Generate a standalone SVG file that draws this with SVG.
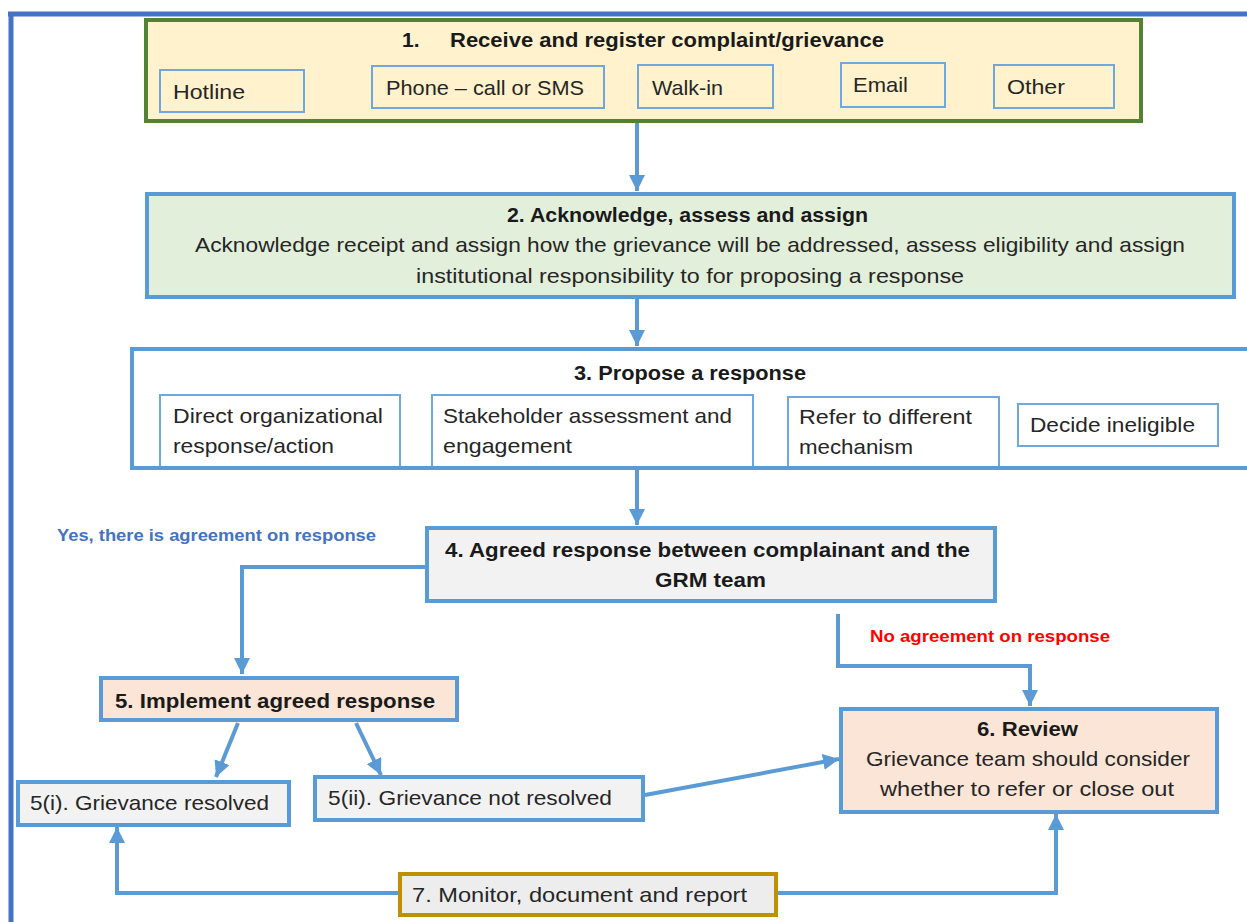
<svg xmlns="http://www.w3.org/2000/svg" width="1247" height="922" viewBox="0 0 1247 922">
<style>
.t{font-family:"Liberation Sans",Arial,sans-serif;font-size:21px;fill:#262626}
.b{font-family:"Liberation Sans",Arial,sans-serif;font-size:21px;font-weight:bold;fill:#1a1a1a}
.lbl{font-family:"Liberation Sans",Arial,sans-serif;font-size:16px;font-weight:bold}
.main{stroke:#5B9BD5;stroke-width:4}
.sub{fill:none;stroke:#6FA8DC;stroke-width:2}
.con{fill:none;stroke:#5B9BD5;stroke-width:4}
</style>
<defs>
<marker id="ah" markerUnits="userSpaceOnUse" markerWidth="16" markerHeight="16" viewBox="0 0 16 16" refX="16" refY="8" orient="auto">
<path d="M0,0 L16,8 L0,16 Z" fill="#5B9BD5"/>
</marker>
</defs>
<rect width="1247" height="922" fill="#ffffff"/>
<g id="frame">
<line x1="8" y1="14" x2="1247" y2="14" stroke="#4472C4" stroke-width="5"/>
<line x1="11" y1="12" x2="11" y2="922" stroke="#4472C4" stroke-width="5"/>
</g>
<g id="connectors">
<line class="con" x1="637" y1="123" x2="637" y2="191" marker-end="url(#ah)"/>
<line class="con" x1="637" y1="299" x2="637" y2="346" marker-end="url(#ah)"/>
<line class="con" x1="637" y1="470" x2="637" y2="525" marker-end="url(#ah)"/>
<polyline class="con" points="428,567 242,567 242,674" marker-end="url(#ah)"/>
<polyline class="con" points="838,614 838,666 1030,666 1030,706" marker-end="url(#ah)"/>
<line class="con" x1="238" y1="723" x2="216" y2="777" marker-end="url(#ah)"/>
<line class="con" x1="356" y1="723" x2="381" y2="775" marker-end="url(#ah)"/>
<line class="con" x1="645" y1="795" x2="839" y2="759" marker-end="url(#ah)"/>
<polyline class="con" points="399,893 117,893 117,827" marker-end="url(#ah)"/>
<polyline class="con" points="776,893 1056,893 1056,814" marker-end="url(#ah)"/>
</g>
<g id="label-yes"><text class="lbl" x="57" y="541" fill="#4472C4" textLength="319" lengthAdjust="spacingAndGlyphs">Yes, there is agreement on response</text></g>
<g id="label-no"><text class="lbl" x="870" y="642" fill="#FF0000" textLength="240" lengthAdjust="spacingAndGlyphs">No agreement on response</text></g>
<g id="n1">
<rect x="146" y="20" width="995" height="101" fill="#FFF2CC" stroke="#548235" stroke-width="4"/>
<text class="b" x="402" y="47">1.</text>
<text class="b" x="450" y="47" textLength="434" lengthAdjust="spacingAndGlyphs">Receive and register complaint/grievance</text>
<rect class="sub" x="160" y="70" width="144" height="42"/>
<text class="t" x="173" y="99" textLength="72" lengthAdjust="spacingAndGlyphs">Hotline</text>
<rect class="sub" x="372" y="66" width="232" height="42"/>
<text class="t" x="386" y="95" textLength="198" lengthAdjust="spacingAndGlyphs">Phone  – call or SMS</text>
<rect class="sub" x="638" y="65" width="135" height="43"/>
<text class="t" x="652" y="95" textLength="71" lengthAdjust="spacingAndGlyphs">Walk-in</text>
<rect class="sub" x="841" y="63" width="104" height="44"/>
<text class="t" x="853" y="92" textLength="55" lengthAdjust="spacingAndGlyphs">Email</text>
<rect class="sub" x="994" y="65" width="120" height="43"/>
<text class="t" x="1007" y="94" textLength="58" lengthAdjust="spacingAndGlyphs">Other</text>
</g>
<g id="n2">
<rect class="main" x="147" y="194" width="1087" height="103" fill="#E2EFDA"/>
<text class="b" x="507" y="222" textLength="361" lengthAdjust="spacingAndGlyphs">2. Acknowledge, assess and assign</text>
<text class="t" x="195" y="252" textLength="990" lengthAdjust="spacingAndGlyphs">Acknowledge receipt and assign how the grievance will be addressed, assess eligibility and assign</text>
<text class="t" x="416" y="283" textLength="548" lengthAdjust="spacingAndGlyphs">institutional responsibility to for proposing a response</text>
</g>
<g id="n3">
<rect class="main" x="132" y="349" width="1130" height="119" fill="#ffffff"/>
<text class="b" x="574" y="380" textLength="232" lengthAdjust="spacingAndGlyphs">3. Propose a response</text>
<rect class="sub" x="160" y="395" width="240" height="73" fill="#ffffff"/>
<text class="t" x="173" y="423" textLength="210" lengthAdjust="spacingAndGlyphs">Direct organizational</text>
<text class="t" x="173" y="453" textLength="161" lengthAdjust="spacingAndGlyphs">response/action</text>
<rect class="sub" x="432" y="395" width="321" height="73" fill="#ffffff"/>
<text class="t" x="443" y="423" textLength="289" lengthAdjust="spacingAndGlyphs">Stakeholder assessment  and</text>
<text class="t" x="443" y="453" textLength="129" lengthAdjust="spacingAndGlyphs">engagement</text>
<rect class="sub" x="788" y="397" width="211" height="71" fill="#ffffff"/>
<text class="t" x="799" y="424" textLength="173" lengthAdjust="spacingAndGlyphs">Refer to different</text>
<text class="t" x="799" y="454" textLength="114" lengthAdjust="spacingAndGlyphs">mechanism</text>
<rect class="sub" x="1018" y="404" width="200" height="42" fill="#ffffff"/>
<text class="t" x="1030" y="432" textLength="165" lengthAdjust="spacingAndGlyphs">Decide ineligible</text>
<line x1="132" y1="468" x2="1247" y2="468" stroke="#5B9BD5" stroke-width="4"/>
</g>
<g id="n4">
<rect class="main" x="427" y="528" width="568" height="73" fill="#F2F2F2"/>
<text class="b" x="445" y="557" textLength="525" lengthAdjust="spacingAndGlyphs">4. Agreed response between complainant and the</text>
<text class="b" x="655" y="587" textLength="111" lengthAdjust="spacingAndGlyphs">GRM team</text>
</g>
<g id="n5">
<rect class="main" x="101" y="678" width="356" height="42" fill="#FBE5D6"/>
<text class="b" x="115" y="708" textLength="320" lengthAdjust="spacingAndGlyphs">5. Implement agreed response</text>
</g>
<g id="n6">
<rect class="main" x="841" y="709" width="376" height="103" fill="#FBE5D6"/>
<text class="b" x="977" y="736" textLength="101" lengthAdjust="spacingAndGlyphs">6. Review</text>
<text class="t" x="866" y="766" textLength="324" lengthAdjust="spacingAndGlyphs">Grievance team should  consider</text>
<text class="t" x="880" y="796" textLength="294" lengthAdjust="spacingAndGlyphs">whether to refer or close  out</text>
</g>
<g id="n5i">
<rect class="main" x="18" y="782" width="271" height="43" fill="#F2F2F2"/>
<text class="t" x="30" y="810" textLength="239" lengthAdjust="spacingAndGlyphs">5(i).  Grievance resolved</text>
</g>
<g id="n5ii">
<rect class="main" x="315" y="777" width="328" height="43" fill="#F2F2F2"/>
<text class="t" x="328" y="805" textLength="284" lengthAdjust="spacingAndGlyphs">5(ii).  Grievance not resolved</text>
</g>
<g id="n7">
<rect x="400" y="874" width="376" height="41" fill="#EDEDED" stroke="#BF9000" stroke-width="4"/>
<text class="t" x="412" y="902" textLength="335" lengthAdjust="spacingAndGlyphs">7. Monitor, document and report</text>
</g>
</svg>
